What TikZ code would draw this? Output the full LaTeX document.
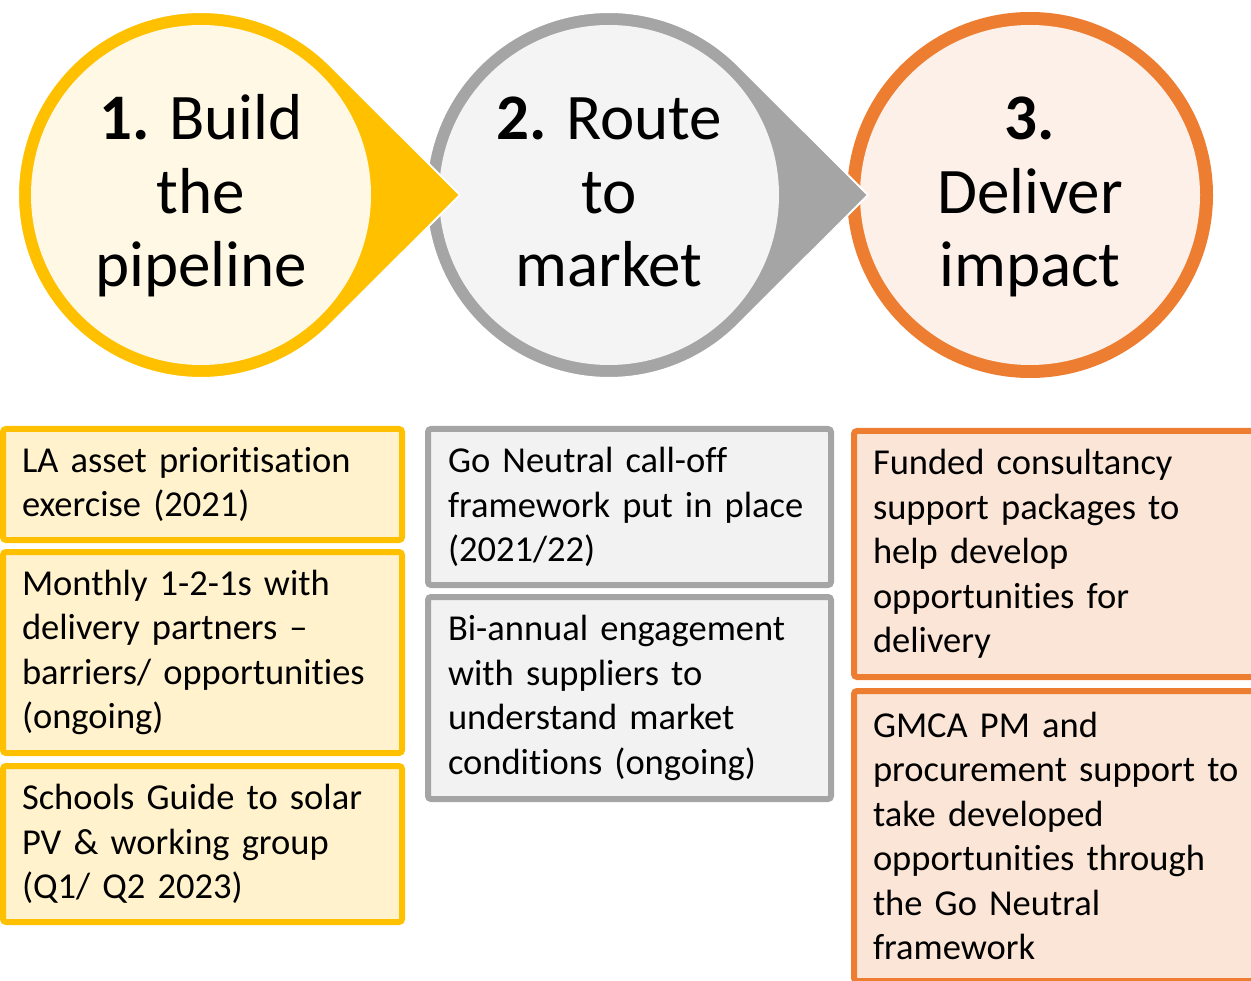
\documentclass[tikz,border=0pt]{standalone}
\usepackage{fontspec}
\setmainfont{Carlito}[Ligatures={TeX,NoCommon}]
\usepackage{xcolor}
\usetikzlibrary{positioning}

\definecolor{gold}{HTML}{FFC000}
\definecolor{goldpale}{HTML}{FFF8E5}
\definecolor{goldfill}{HTML}{FFF2CC}
\definecolor{grey}{HTML}{A5A5A5}
\definecolor{greypale}{HTML}{F4F4F4}
\definecolor{greyfill}{HTML}{F2F2F2}
\definecolor{orange}{HTML}{ED7D31}
\definecolor{orangepale}{HTML}{FDF0E9}
\definecolor{orangefill}{HTML}{FBE5D6}

\tikzset{
  stage/.style={align=center, inner sep=0pt, font=\fontsize{65}{73.5}\selectfont},
  task/.style={rectangle, draw, line width=6pt, rounded corners=3pt, anchor=north west,
    align=left, inner xsep=19pt, inner ysep=0pt, outer sep=0pt,
    font=\fontsize{36.5}{44.5}\selectfont},
  goldtask/.style={task, draw=gold, fill=goldfill, text width=361pt},
  greytask/.style={task, draw=grey, fill=greyfill, inner xsep=20pt, text width=363pt},
  orangetask/.style={task, draw=orange, fill=orangefill, text width=380pt}
}

\begin{document}
\begin{tikzpicture}[x=1pt, y=1pt]
\useasboundingbox (0,0) rectangle (1251,-981);
\clip (0,0) rectangle (1251,-981);

\coordinate (c1) at (201,-195);
\coordinate (c2) at (609,-195);
\coordinate (c3) at (1030,-195);
\coordinate (tip1) at (460,-195);
\coordinate (tip2) at (868,-195);

% stages, drawn right to left so each tip lies on the next circle
\fill[orange] (c3) circle[radius=183];
\fill[orangepale] (c3) circle[radius=170];

\filldraw[fill=grey, draw=white, line width=2pt] (c2) ++(45:183) arc[start angle=45, end angle=315, radius=183] -- (tip2) -- cycle;
\fill[greypale] (c2) circle[radius=170];

\filldraw[fill=gold, draw=white, line width=2pt] (c1) ++(45:183) arc[start angle=45, end angle=315, radius=183] -- (tip1) -- cycle;
\fill[goldpale] (c1) circle[radius=170];

\node[stage, yshift=-3.5pt] (build) at (c1) {\strut\textbf{1.} Build\\the\\pipeline\strut};
\node[stage, yshift=-3.5pt] (route) at (c2) {\strut\textbf{2.} Route\\to\\market\strut};
\node[stage, yshift=-3.5pt] (deliver) at (c3) {\strut\textbf{3.}\\Deliver\\impact\strut};

% tasks under each stage
\node[goldtask, minimum height=111pt] (prior) at (3,-429) {LA asset prioritisation\\exercise (2021)};
\node[goldtask, minimum height=201pt, below=12pt of prior] (partners) {Monthly 1-2-1s with\\delivery partners –\\barriers/ opportunities\\(ongoing)};
\node[goldtask, minimum height=156pt, below=13pt of partners] (schools) {Schools Guide to solar\\PV \& working group\\(Q1/ Q2 2023)};

\node[greytask, minimum height=156pt] (calloff) at (428,-429) {Go Neutral call-off\\framework put in place\\(2021/22)};
\node[greytask, minimum height=202pt, below=12pt of calloff] (suppliers) {Bi-annual engagement\\with suppliers to\\understand market\\conditions (ongoing)};

\node[orangetask, minimum height=246pt] (consult) at (854,-431) {Funded consultancy\\support packages to\\help develop\\opportunities for\\delivery};
\node[orangetask, minimum height=290pt, below=14pt of consult] (gmca) {GMCA PM and\\procurement support to\\take developed\\opportunities through\\the Go Neutral\\framework};
\end{tikzpicture}
\end{document}
